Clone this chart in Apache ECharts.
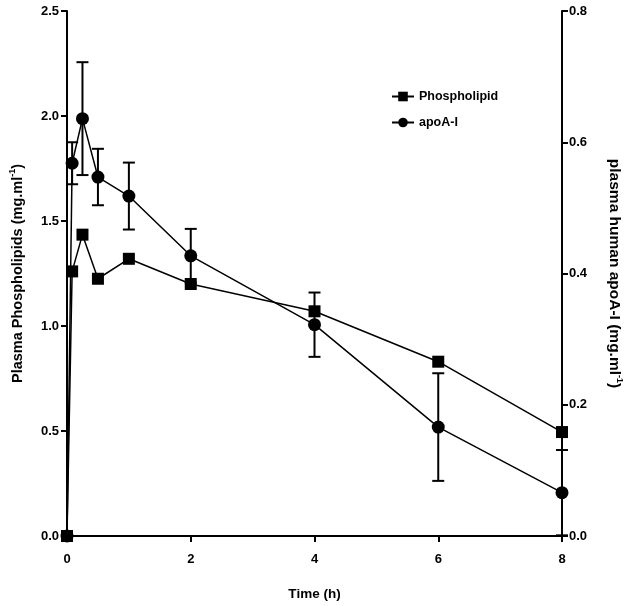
<!DOCTYPE html>
<html><head><meta charset="utf-8">
<script src="https://cdn.jsdelivr.net/npm/echarts@6/dist/echarts.min.js"></script>
<style>html,body{margin:0;padding:0;background:#fff}#c{width:632px;height:606px}</style>
</head><body><div id="c"></div>
<script>
const timeH = [0, 0.083, 0.25, 0.5, 1, 2, 4, 6, 8];
const phospholipid = [0, 1.26, 1.435, 1.225, 1.32, 1.2, 1.07, 0.83, 0.495];
const apoAI = [0, 0.568, 0.636, 0.547, 0.518, 0.427, 0.322, 0.166, 0.066];
const apoAIErr = [0, 0.032, 0.086, 0.043, 0.051, 0.041, 0.049, 0.082, 0.065];
const xTicks = [0, 2, 4, 6, 8];
const leftTicks = [0, 0.5, 1.0, 1.5, 2.0, 2.5];
const rightTicks = [0, 0.2, 0.4, 0.6, 0.8];

const FONT = "'Liberation Sans', Arial, sans-serif";
const chart = echarts.init(document.getElementById('c'), null, {renderer: 'canvas'});

const plData = timeH.map((t, i) => [t, phospholipid[i]]);
const apoData = timeH.map((t, i) => [t, apoAI[i]]);
const errData = timeH.map((t, i) => [t, apoAI[i] - apoAIErr[i], apoAI[i] + apoAIErr[i]]).filter((d, i) => apoAIErr[i] > 0);

function richFor(size) {
  return {
    a: {fontFamily: FONT, fontWeight: 'bold', fontSize: size, color: '#000'},
    b: {fontFamily: FONT, fontWeight: 'bold', fontSize: Math.round(size * 0.6), color: '#000', padding: [0, 0, 10, 0]}
  };
}

chart.setOption({
  animation: false,
  backgroundColor: '#fff',
  grid: {left: 66, right: 65, top: 11, bottom: 69},
  legend: {
    orient: 'vertical', left: 386, top: 85, itemGap: 13,
    itemWidth: 22, itemHeight: 12,
    textStyle: {fontFamily: FONT, fontWeight: 'bold', fontSize: 12.5, color: '#000'},
    data: ['Phospholipid', 'apoA-I']
  },
  xAxis: {
    type: 'value', min: xTicks[0], max: xTicks[xTicks.length - 1], interval: 2,
    name: 'Time (h)', nameLocation: 'middle', nameGap: 51,
    nameTextStyle: {fontFamily: FONT, fontWeight: 'bold', fontSize: 13.5, color: '#000'},
    axisLine: {lineStyle: {color: '#000', width: 2}},
    axisTick: {show: true, length: 6, lineStyle: {color: '#000', width: 2}},
    axisLabel: {margin: 17, fontFamily: FONT, fontWeight: 'bold', fontSize: 13, color: '#000'},
    splitLine: {show: false}
  },
  yAxis: [{
    type: 'value', min: leftTicks[0], max: leftTicks[leftTicks.length - 1], interval: 0.5,
    name: '{a|Plasma Phospholipids (mg.ml}{b|-1}{a|)}', nameLocation: 'middle', nameGap: 40,
    nameTextStyle: {rich: richFor(14.5)},
    axisLine: {show: true, lineStyle: {color: '#000', width: 2}},
    axisTick: {show: true, length: 6, lineStyle: {color: '#000', width: 2}},
    axisLabel: {margin: 8, fontFamily: FONT, fontWeight: 'bold', fontSize: 13, color: '#000',
      formatter: v => v.toFixed(1)},
    splitLine: {show: false}
  }, {
    type: 'value', position: 'right', min: rightTicks[0], max: rightTicks[rightTicks.length - 1], interval: 0.2,
    name: '{a|plasma human apoA-I (mg.ml}{b|-1}{a|)}', nameLocation: 'middle', nameGap: 43, nameRotate: -90,
    nameTextStyle: {rich: richFor(15.5)},
    axisLine: {show: true, lineStyle: {color: '#000', width: 2}},
    axisTick: {show: true, length: 6, lineStyle: {color: '#000', width: 2}},
    axisLabel: {margin: 7, fontFamily: FONT, fontWeight: 'bold', fontSize: 13, color: '#000',
      formatter: v => v.toFixed(1)},
    splitLine: {show: false}
  }],
  series: [{
    name: 'Phospholipid', type: 'line', yAxisIndex: 0, data: plData,
    symbol: 'rect', symbolSize: 12,
    lineStyle: {color: '#000', width: 1.5}, itemStyle: {color: '#000'}, z: 3
  }, {
    name: 'apoA-I', type: 'line', yAxisIndex: 1, data: apoData,
    symbol: 'circle', symbolSize: 13,
    lineStyle: {color: '#000', width: 1.5}, itemStyle: {color: '#000'}, z: 3
  }, {
    name: 'apoA-I err', type: 'custom', yAxisIndex: 1, data: errData, z: 2,
    renderItem: function (params, api) {
      const x = api.value(0);
      const lo = api.coord([x, api.value(1)]);
      const hi = api.coord([x, api.value(2)]);
      const hw = 6;
      const st = {stroke: '#000', lineWidth: 2};
      return {type: 'group', children: [
        {type: 'line', shape: {x1: lo[0], y1: lo[1], x2: hi[0], y2: hi[1]}, style: st},
        {type: 'line', shape: {x1: lo[0] - hw, y1: lo[1], x2: lo[0] + hw, y2: lo[1]}, style: st},
        {type: 'line', shape: {x1: hi[0] - hw, y1: hi[1], x2: hi[0] + hw, y2: hi[1]}, style: st}
      ]};
    }
  }]
});
</script></body></html>
